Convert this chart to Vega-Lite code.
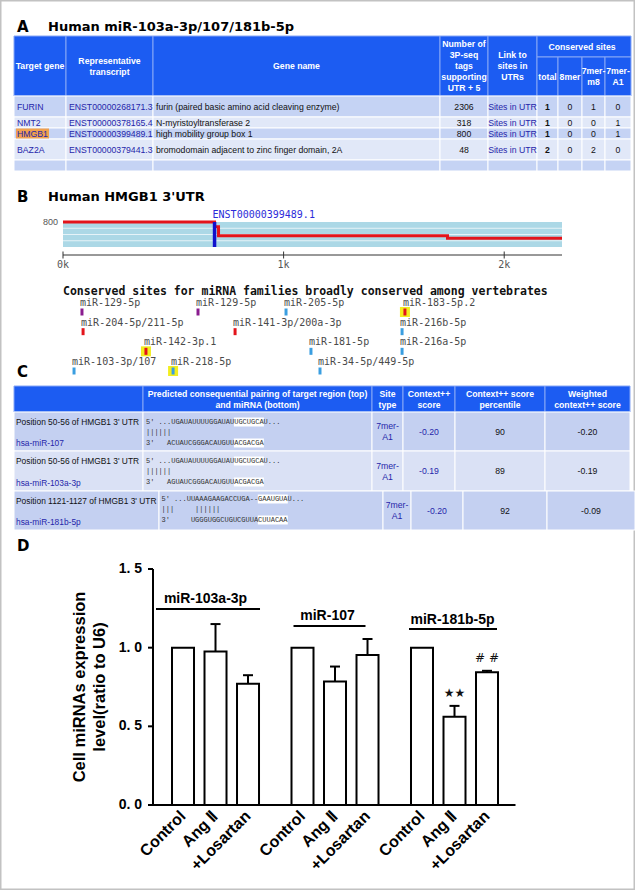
{
"$schema": "https://vega.github.io/schema/vega-lite/v6.json",
"width": 635,
"height": 890,
"autosize": {"type": "none"},
"padding": 0,
"background": "white",
"config": {"view": {"stroke": "#c2c2c2", "strokeWidth": 3}, "text": {"font": "Liberation Sans"}, "axis": {"grid": false}},
"datasets": {
"titles": [
{"p": 1, "L": "A", "T": "Human miR-103a-3p/107/181b-5p"},
{"p": 2, "L": "B", "T": "Human HMGB1 3'UTR"},
{"p": 3, "L": "C", "T": ""},
{"p": 4, "L": "D", "T": ""}
],
"A_head": [
{"r0": 0, "r1": 2, "c0": 0, "c1": 1, "t": "Target gene"},
{"r0": 0, "r1": 2, "c0": 1, "c1": 2, "t": "Representative\ntranscript"},
{"r0": 0, "r1": 2, "c0": 2, "c1": 3, "t": "Gene name"},
{"r0": 0, "r1": 2, "c0": 3, "c1": 4, "t": "Number of\n3P-seq\ntags\nsupporting\nUTR + 5"},
{"r0": 0, "r1": 2, "c0": 4, "c1": 5, "t": "Link to\nsites in\nUTRs"},
{"r0": 0, "r1": 1, "c0": 5, "c1": 9, "t": "Conserved sites"},
{"r0": 1, "r1": 2, "c0": 5, "c1": 6, "t": "total"},
{"r0": 1, "r1": 2, "c0": 6, "c1": 7, "t": "8mer"},
{"r0": 1, "r1": 2, "c0": 7, "c1": 8, "t": "7mer-\nm8"},
{"r0": 1, "r1": 2, "c0": 8, "c1": 9, "t": "7mer-\nA1"}
],
"A_rows": [
{"row": 2, "gene": "FURIN", "tx": "ENST00000268171.3", "name": "furin (paired basic amino acid cleaving enzyme)", "tags": "2306", "link": "Sites in UTR", "total": "1", "e8": "0", "m8": "1", "a1": "0"},
{"row": 3, "gene": "NMT2", "tx": "ENST00000378165.4", "name": "N-myristoyltransferase 2", "tags": "318", "link": "Sites in UTR", "total": "1", "e8": "0", "m8": "0", "a1": "1"},
{"row": 4, "gene": "HMGB1", "tx": "ENST00000399489.1", "name": "high mobility group box 1", "tags": "800", "link": "Sites in UTR", "total": "1", "e8": "0", "m8": "0", "a1": "1"},
{"row": 5, "gene": "BAZ2A", "tx": "ENST00000379441.3", "name": "bromodomain adjacent to zinc finger domain, 2A", "tags": "48", "link": "Sites in UTR", "total": "2", "e8": "0", "m8": "2", "a1": "0"},
{"row": 6, "gene": "", "tx": "", "name": "", "tags": "", "link": "", "total": "", "e8": "", "m8": "", "a1": ""}
],
"B_utr": [{"start": 0, "len": 2262, "low": 0, "top": 800}],
"B_grid": [{"g": 200, "start": 0, "len": 2262}, {"g": 400, "start": 0, "len": 2262}, {"g": 600, "start": 0, "len": 2262}],
"B_tags": [
{"nt": 0, "tags": 800},
{"nt": 687, "tags": 650},
{"nt": 705, "tags": 362},
{"nt": 1743, "tags": 278},
{"nt": 2262, "tags": 278}
],
"B_tx": [{"nt": 687, "low": 0, "top": 800, "tx": "ENST00000399489.1"}],
"B_ticks": [{"v": 0, "lab": "0k"}, {"v": 1000, "lab": "1k"}, {"v": 2000, "lab": "2k"}],
"B_head": [{"t": "Conserved sites for miRNA families broadly conserved among vertebrates", "nt": 0, "lane": 0}],
"sites": [
{"mir": "miR-129-5p", "nt": 86, "lane": 1, "type": "7mer-m8", "hl": false},
{"mir": "miR-129-5p", "nt": 612, "lane": 1, "type": "7mer-m8", "hl": false},
{"mir": "miR-205-5p", "nt": 1011, "lane": 1, "type": "7mer-A1", "hl": false},
{"mir": "miR-183-5p.2", "nt": 1550, "lane": 1, "type": "8mer", "hl": true},
{"mir": "miR-204-5p/211-5p", "nt": 91, "lane": 2, "type": "8mer", "hl": false},
{"mir": "miR-141-3p/200a-3p", "nt": 780, "lane": 2, "type": "8mer", "hl": false},
{"mir": "miR-216b-5p", "nt": 1537, "lane": 2, "type": "7mer-A1", "hl": false},
{"mir": "miR-142-3p.1", "nt": 376, "lane": 3, "type": "8mer", "hl": true},
{"mir": "miR-181-5p", "nt": 1124, "lane": 3, "type": "7mer-A1", "hl": false},
{"mir": "miR-216a-5p", "nt": 1537, "lane": 3, "type": "7mer-A1", "hl": false},
{"mir": "miR-103-3p/107", "nt": 50, "lane": 4, "type": "7mer-A1", "hl": false},
{"mir": "miR-218-5p", "nt": 499, "lane": 4, "type": "7mer-A1", "hl": true},
{"mir": "miR-34-5p/449-5p", "nt": 1165, "lane": 4, "type": "7mer-A1", "hl": false}
],
"C_head": [
{"r0": 0, "r1": 1, "c0": 0, "c1": 1, "t": ""},
{"r0": 0, "r1": 1, "c0": 1, "c1": 2, "t": "Predicted consequential pairing of target region (top)\nand miRNA (bottom)"},
{"r0": 0, "r1": 1, "c0": 2, "c1": 3, "t": "Site\ntype"},
{"r0": 0, "r1": 1, "c0": 3, "c1": 4, "t": "Context++\nscore"},
{"r0": 0, "r1": 1, "c0": 4, "c1": 5, "t": "Context++ score\npercentile"},
{"r0": 0, "r1": 1, "c0": 5, "c1": 6, "t": "Weighted\ncontext++ score"}
],
"C_rows": [
{"row": 1, "tbl": 0, "pos": "Position 50-56 of HMGB1 3' UTR", "mirna": "hsa-miR-107", "seq": "", "site": "7mer-\nA1", "ctx": "-0.20", "pct": "90", "w": "-0.20"},
{"row": 2, "tbl": 0, "pos": "Position 50-56 of HMGB1 3' UTR", "mirna": "hsa-miR-103a-3p", "seq": "", "site": "7mer-\nA1", "ctx": "-0.19", "pct": "89", "w": "-0.19"},
{"row": 3, "tbl": 1, "pos": "Position 1121-1127 of HMGB1 3' UTR", "mirna": "hsa-miR-181b-5p", "seq": "", "site": "7mer-\nA1", "ctx": "-0.20", "pct": "92", "w": "-0.09"}
],
"C_seq": [
{"tbl": 0, "ln": 1, "t": "5'\u00a0...UGAUAUUUUGGAUAUUGCUGCAU...", "hs": 21},
{"tbl": 0, "ln": 2, "t": "\u00a0\u00a0\u00a0\u00a0\u00a0\u00a0\u00a0\u00a0\u00a0\u00a0\u00a0\u00a0\u00a0\u00a0\u00a0\u00a0\u00a0\u00a0\u00a0\u00a0\u00a0||||||", "hs": null},
{"tbl": 0, "ln": 3, "t": "3'\u00a0\u00a0\u00a0ACUAUCGGGACAUGUUACGACGA", "hs": 21},
{"tbl": 0, "ln": 4, "t": "5'\u00a0...UGAUAUUUUGGAUAUUGCUGCAU...", "hs": 21},
{"tbl": 0, "ln": 5, "t": "\u00a0\u00a0\u00a0\u00a0\u00a0\u00a0\u00a0\u00a0\u00a0\u00a0\u00a0\u00a0\u00a0\u00a0\u00a0\u00a0\u00a0\u00a0\u00a0\u00a0\u00a0||||||", "hs": null},
{"tbl": 0, "ln": 6, "t": "3'\u00a0\u00a0\u00a0AGUAUCGGGACAUGUUACGACGA", "hs": 21},
{"tbl": 1, "ln": 7, "t": "5'\u00a0...UUAAAGAAGACCUGA--GAAUGUAU...", "hs": 23},
{"tbl": 1, "ln": 8, "t": "\u00a0\u00a0\u00a0\u00a0\u00a0\u00a0\u00a0\u00a0\u00a0\u00a0\u00a0\u00a0\u00a0\u00a0\u00a0|||\u00a0\u00a0\u00a0\u00a0\u00a0||||||", "hs": null},
{"tbl": 1, "ln": 9, "t": "3'\u00a0\u00a0\u00a0\u00a0\u00a0UGGGUGGCUGUCGUUACUUACAA", "hs": 23}
],
"D_bars": [
{"mir": "miR-103a-3p", "cond": "Control", "mean": 1.0, "upper": 1.0, "sig": ""},
{"mir": "miR-103a-3p", "cond": "Ang Ⅱ", "mean": 0.975, "upper": 1.15, "sig": ""},
{"mir": "miR-103a-3p", "cond": "+Losartan", "mean": 0.77, "upper": 0.825, "sig": ""},
{"mir": "miR-107", "cond": "Control", "mean": 1.0, "upper": 1.0, "sig": ""},
{"mir": "miR-107", "cond": "Ang Ⅱ", "mean": 0.785, "upper": 0.88, "sig": ""},
{"mir": "miR-107", "cond": "+Losartan", "mean": 0.953, "upper": 1.055, "sig": ""},
{"mir": "miR-181b-5p", "cond": "Control", "mean": 1.0, "upper": 1.0, "sig": ""},
{"mir": "miR-181b-5p", "cond": "Ang Ⅱ", "mean": 0.561, "upper": 0.63, "sig": "★★"},
{"mir": "miR-181b-5p", "cond": "+Losartan", "mean": 0.843, "upper": 0.853, "sig": "# #"}
],
"D_groups": [
{"mir": "miR-103a-3p", "level": 1.246},
{"mir": "miR-107", "level": 1.138},
{"mir": "miR-181b-5p", "level": 1.119}
],
"D_axis": [{"first": "miR-103a-3p", "middle": "miR-107", "lo": 0, "hi": 1.5, "title": "Cell miRNAs expression\nlevel(ratio to U6)"}],
"D_yticks": [{"v": 0, "lab": "0. 0"}, {"v": 0.5, "lab": "0. 5"}, {"v": 1, "lab": "1. 0"}, {"v": 1.5, "lab": "1. 5"}]
},
"layer": [
{
"data": {"name": "titles"},
"transform": [{"calculate": "0", "as": "lx"}, {"calculate": "1", "as": "tx"}],
"layer": [
{"mark": {"type": "text", "font": "DejaVu Sans", "fontWeight": "bold", "fontSize": 15, "align": "left", "baseline": "middle", "color": "black"},
 "encoding": {
  "x": {"field": "lx", "type": "quantitative", "scale": {"domain": [0, 1], "range": [17, 48], "nice": false, "zero": false}, "axis": null},
  "y": {"field": "p", "type": "quantitative", "scale": {"domain": [1, 2, 3, 4], "range": [27, 197, 372, 546], "nice": false, "zero": false}, "axis": null},
  "text": {"field": "L"}}},
{"mark": {"type": "text", "font": "DejaVu Sans", "fontWeight": "bold", "fontSize": 13, "align": "left", "baseline": "middle", "color": "black"},
 "encoding": {
  "x": {"field": "tx", "type": "quantitative", "axis": null},
  "y": {"field": "p", "type": "quantitative", "axis": null},
  "text": {"field": "T"}}}
]
},
{
"layer": [
{"data": {"name": "A_head"},
 "mark": {"type": "rect", "fill": "#1c5cf2", "stroke": "#86a6f6", "strokeWidth": 1},
 "encoding": {
  "x": {"field": "c0", "type": "quantitative", "scale": {"domain": [0, 1, 2, 3, 4, 5, 6, 7, 8, 9], "range": [14, 66, 153, 440, 488, 537, 558, 582, 605, 631], "nice": false, "zero": false}, "axis": null},
  "x2": {"field": "c1"},
  "y": {"field": "r0", "type": "quantitative", "scale": {"domain": [0, 1, 2, 3, 4, 5, 6, 7], "range": [36, 57, 96, 117, 128, 139, 160, 171], "nice": false, "zero": false}, "axis": null},
  "y2": {"field": "r1"}}},
{"data": {"name": "A_rows"},
 "transform": [
  {"fold": ["gene", "tx", "name", "tags", "link", "total", "e8", "m8", "a1"], "as": ["key", "t"]},
  {"calculate": "indexof(['gene','tx','name','tags','link','total','e8','m8','a1'], datum.key)", "as": "c0"},
  {"calculate": "datum.c0 + 1", "as": "c1"},
  {"calculate": "datum.row + 1", "as": "row1"}],
 "mark": {"type": "rect", "stroke": "white", "strokeWidth": 1},
 "encoding": {
  "x": {"field": "c0", "type": "quantitative", "axis": null},
  "x2": {"field": "c1"},
  "y": {"field": "row", "type": "quantitative", "axis": null},
  "y2": {"field": "row1"},
  "color": {"condition": {"test": "datum.row % 2 == 0", "value": "#c5d3f4"}, "value": "#e1e8f8"}}},
{"data": {"name": "A_head"},
 "transform": [
  {"calculate": "(datum.c0 + datum.c1) / 2", "as": "cm"},
  {"calculate": "(datum.r0 + datum.r1) / 2", "as": "rm"},
  {"calculate": "length(split(datum.t, '\\n'))", "as": "n"}],
 "layer": [
  {"transform": [{"filter": "datum.r1 - datum.r0 == 2 && datum.n == 1"}],
   "mark": {"type": "text", "color": "white", "fontWeight": "bold", "fontSize": 8.7, "lineBreak": "\n", "lineHeight": 11, "align": "center", "baseline": "middle", "dy": 30},
   "encoding": {"x": {"field": "cm", "type": "quantitative", "axis": null}, "y": {"field": "r0", "type": "quantitative", "axis": null}, "text": {"field": "t"}}},
  {"transform": [{"filter": "datum.r1 - datum.r0 == 2 && datum.n == 2"}],
   "mark": {"type": "text", "color": "white", "fontWeight": "bold", "fontSize": 8.7, "lineBreak": "\n", "lineHeight": 11, "align": "center", "baseline": "middle", "dy": 24.5},
   "encoding": {"x": {"field": "cm", "type": "quantitative", "axis": null}, "y": {"field": "r0", "type": "quantitative", "axis": null}, "text": {"field": "t"}}},
  {"transform": [{"filter": "datum.r1 - datum.r0 == 2 && datum.n == 3"}],
   "mark": {"type": "text", "color": "white", "fontWeight": "bold", "fontSize": 8.7, "lineBreak": "\n", "lineHeight": 11, "align": "center", "baseline": "middle", "dy": 19},
   "encoding": {"x": {"field": "cm", "type": "quantitative", "axis": null}, "y": {"field": "r0", "type": "quantitative", "axis": null}, "text": {"field": "t"}}},
  {"transform": [{"filter": "datum.r1 - datum.r0 == 2 && datum.n == 5"}],
   "mark": {"type": "text", "color": "white", "fontWeight": "bold", "fontSize": 8.7, "lineBreak": "\n", "lineHeight": 11, "align": "center", "baseline": "middle", "dy": 8},
   "encoding": {"x": {"field": "cm", "type": "quantitative", "axis": null}, "y": {"field": "r0", "type": "quantitative", "axis": null}, "text": {"field": "t"}}},
  {"transform": [{"filter": "datum.r1 - datum.r0 == 1 && datum.n == 1"}],
   "mark": {"type": "text", "color": "white", "fontWeight": "bold", "fontSize": 8.7, "lineBreak": "\n", "lineHeight": 11, "align": "center", "baseline": "middle"},
   "encoding": {"x": {"field": "cm", "type": "quantitative", "axis": null}, "y": {"field": "rm", "type": "quantitative", "axis": null}, "text": {"field": "t"}}},
  {"transform": [{"filter": "datum.r1 - datum.r0 == 1 && datum.n == 2"}],
   "mark": {"type": "text", "color": "white", "fontWeight": "bold", "fontSize": 8.7, "lineBreak": "\n", "lineHeight": 11, "align": "center", "baseline": "middle", "dy": -5.5},
   "encoding": {"x": {"field": "cm", "type": "quantitative", "axis": null}, "y": {"field": "rm", "type": "quantitative", "axis": null}, "text": {"field": "t"}}}
 ]},
{"data": {"name": "A_rows"},
 "transform": [{"filter": "datum.gene == 'HMGB1'"}, {"calculate": "datum.row + 0.5", "as": "rm"}, {"calculate": "0", "as": "c0"}],
 "mark": {"type": "tick", "orient": "horizontal", "size": 33, "thickness": 10, "color": "#f0a04e", "opacity": 1, "xOffset": 18.5},
 "encoding": {
  "x": {"field": "c0", "type": "quantitative", "axis": null},
  "y": {"field": "rm", "type": "quantitative", "axis": null}}},
{"data": {"name": "A_rows"},
 "transform": [
  {"fold": ["gene", "tx", "name"], "as": ["key", "t"]},
  {"calculate": "indexof(['gene','tx','name'], datum.key)", "as": "c0"},
  {"calculate": "datum.row + 0.5", "as": "rm"}],
 "mark": {"type": "text", "align": "left", "baseline": "middle", "fontSize": 8.7, "dx": 3},
 "encoding": {
  "x": {"field": "c0", "type": "quantitative", "axis": null},
  "y": {"field": "rm", "type": "quantitative", "axis": null},
  "text": {"field": "t"},
  "color": {"condition": {"test": "datum.key == 'name'", "value": "#111111"}, "value": "#2626aa"}}},
{"data": {"name": "A_rows"},
 "transform": [
  {"fold": ["tags", "link", "e8", "m8", "a1"], "as": ["key", "t"]},
  {"calculate": "3.5 + indexof(['tags','link','total','e8','m8','a1'], datum.key)", "as": "cm"},
  {"calculate": "datum.row + 0.5", "as": "rm"}],
 "mark": {"type": "text", "align": "center", "baseline": "middle", "fontSize": 8.7},
 "encoding": {
  "x": {"field": "cm", "type": "quantitative", "axis": null},
  "y": {"field": "rm", "type": "quantitative", "axis": null},
  "text": {"field": "t"},
  "color": {"condition": {"test": "datum.key == 'link'", "value": "#2626aa"}, "value": "#111111"}}},
{"data": {"name": "A_rows"},
 "transform": [{"calculate": "datum.row + 0.5", "as": "rm"}, {"calculate": "5.5", "as": "cm"}],
 "mark": {"type": "text", "align": "center", "baseline": "middle", "fontSize": 8.7, "fontWeight": "bold", "color": "#111111"},
 "encoding": {
  "x": {"field": "cm", "type": "quantitative", "axis": null},
  "y": {"field": "rm", "type": "quantitative", "axis": null},
  "text": {"field": "total"}}}
]
},
{
"layer": [
{"data": {"name": "B_utr"},
 "mark": {"type": "rect", "fill": "#acd8e6"},
 "encoding": {
  "x": {"field": "start", "type": "quantitative", "scale": {"domain": [0, 2262], "range": [63, 562], "nice": false, "zero": false}, "axis": null},
  "x2": {"field": "len"},
  "y": {"field": "low", "type": "quantitative", "scale": {"domain": [0, 800], "range": [247, 222], "nice": false, "zero": false}, "axis": null},
  "y2": {"field": "top"}}},
{"data": {"name": "B_grid"},
 "mark": {"type": "rule", "color": "white", "strokeWidth": 1, "opacity": 0.7},
 "encoding": {
  "x": {"field": "start", "type": "quantitative", "axis": null},
  "x2": {"field": "len"},
  "y": {"field": "g", "type": "quantitative", "axis": null}}},
{"data": {"name": "B_tags"},
 "mark": {"type": "line", "color": "#e3141b", "strokeWidth": 3, "interpolate": "step-after"},
 "encoding": {
  "x": {"field": "nt", "type": "quantitative", "axis": null},
  "y": {"field": "tags", "type": "quantitative", "axis": null}}},
{"data": {"name": "B_tx"},
 "mark": {"type": "rule", "color": "#1111cc", "strokeWidth": 3.5},
 "encoding": {
  "x": {"field": "nt", "type": "quantitative", "axis": null},
  "y": {"field": "low", "type": "quantitative", "axis": null},
  "y2": {"field": "top"}}},
{"data": {"name": "B_tx"},
 "mark": {"type": "text", "align": "left", "baseline": "bottom", "font": "DejaVu Sans Mono", "fontSize": 10, "color": "#2b2bd9", "dx": -2, "dy": -2},
 "encoding": {
  "x": {"field": "nt", "type": "quantitative", "axis": null},
  "y": {"field": "top", "type": "quantitative", "axis": null},
  "text": {"field": "tx"}}},
{"data": {"name": "B_utr"},
 "mark": {"type": "text", "align": "right", "baseline": "middle", "fontSize": 9, "color": "#555555", "dx": -5},
 "encoding": {
  "x": {"field": "start", "type": "quantitative", "axis": null},
  "y": {"field": "top", "type": "quantitative", "axis": null},
  "text": {"field": "top"}}}
]
},
{
"layer": [
{"data": {"name": "B_utr"},
 "transform": [{"calculate": "0", "as": "lv"}],
 "mark": {"type": "rule", "color": "#333333", "strokeWidth": 1},
 "encoding": {
  "x": {"field": "start", "type": "quantitative", "scale": {"domain": [0, 2262], "range": [63, 562], "nice": false, "zero": false}, "axis": null},
  "x2": {"field": "len"},
  "y": {"field": "lv", "type": "quantitative", "scale": {"domain": [0, 1], "range": [255, 265], "nice": false, "zero": false}, "axis": null}}},
{"data": {"name": "B_ticks"},
 "transform": [{"calculate": "0", "as": "lv"}],
 "mark": {"type": "tick", "orient": "vertical", "size": 7, "thickness": 1, "color": "#333333", "opacity": 1},
 "encoding": {
  "x": {"field": "v", "type": "quantitative", "axis": null},
  "y": {"field": "lv", "type": "quantitative", "axis": null}}},
{"data": {"name": "B_ticks"},
 "transform": [{"calculate": "1", "as": "lv"}],
 "mark": {"type": "text", "align": "center", "baseline": "middle", "font": "DejaVu Sans Mono", "fontSize": 10, "color": "#555555"},
 "encoding": {
  "x": {"field": "v", "type": "quantitative", "axis": null},
  "y": {"field": "lv", "type": "quantitative", "axis": null},
  "text": {"field": "lab"}}}
]
},
{
"layer": [
{"data": {"name": "B_head"},
 "mark": {"type": "text", "align": "left", "baseline": "middle", "font": "DejaVu Sans Mono", "fontWeight": "bold", "fontSize": 11.5, "color": "#111111"},
 "encoding": {
  "x": {"field": "nt", "type": "quantitative", "scale": {"domain": [0, 2262], "range": [63, 562], "nice": false, "zero": false}, "axis": null},
  "y": {"field": "lane", "type": "quantitative", "scale": {"domain": [0, 1, 4], "range": [292, 312, 371], "nice": false, "zero": false}, "axis": null},
  "text": {"field": "t"}}},
{"data": {"name": "sites"},
 "transform": [{"filter": "datum.hl"}],
 "mark": {"type": "point", "shape": "square", "filled": true, "size": 100, "color": "#f2ee1e", "opacity": 1},
 "encoding": {
  "x": {"field": "nt", "type": "quantitative", "axis": null},
  "y": {"field": "lane", "type": "quantitative", "axis": null}}},
{"data": {"name": "sites"},
 "mark": {"type": "tick", "orient": "vertical", "thickness": 3, "size": 7, "opacity": 1},
 "encoding": {
  "x": {"field": "nt", "type": "quantitative", "axis": null},
  "y": {"field": "lane", "type": "quantitative", "axis": null},
  "color": {"field": "type", "type": "nominal", "scale": {"domain": ["8mer", "7mer-m8", "7mer-A1"], "range": ["#e3141b", "#8a1c8f", "#3a9ee0"]}, "legend": null}}},
{"data": {"name": "sites"},
 "mark": {"type": "text", "align": "left", "baseline": "middle", "font": "DejaVu Sans Mono", "fontSize": 10, "color": "#4a4a4a", "dx": -2, "dy": -9},
 "encoding": {
  "x": {"field": "nt", "type": "quantitative", "axis": null},
  "y": {"field": "lane", "type": "quantitative", "axis": null},
  "text": {"field": "mir"}}}
]
},
{
"layer": [
{"data": {"name": "C_head"},
 "mark": {"type": "rect", "fill": "#1c5cf2", "stroke": "#86a6f6", "strokeWidth": 1},
 "encoding": {
  "x": {"field": "c0", "type": "quantitative", "scale": {"domain": [0, 1, 2, 3, 4, 5, 6, 10, 11, 12, 13, 14, 15, 16], "range": [14, 143, 372, 403, 455, 545, 630, 14, 159, 383, 411, 463, 547, 635], "nice": false, "zero": false}, "axis": null},
  "x2": {"field": "c1"},
  "y": {"field": "r0", "type": "quantitative", "scale": {"domain": [0, 1, 2, 3, 4], "range": [386, 412, 451, 491, 530], "nice": false, "zero": false}, "axis": null},
  "y2": {"field": "r1"}}},
{"data": {"name": "C_head"},
 "transform": [
  {"calculate": "(datum.c0 + datum.c1) / 2", "as": "cm"},
  {"calculate": "(datum.r0 + datum.r1) / 2", "as": "rm"}],
 "mark": {"type": "text", "color": "white", "fontWeight": "bold", "fontSize": 8.7, "lineBreak": "\n", "lineHeight": 11, "align": "center", "baseline": "middle", "dy": -5.5},
 "encoding": {
  "x": {"field": "cm", "type": "quantitative", "axis": null},
  "y": {"field": "rm", "type": "quantitative", "axis": null},
  "text": {"field": "t"}}},
{"data": {"name": "C_rows"},
 "transform": [
  {"fold": ["pos", "seq", "site", "ctx", "pct", "w"], "as": ["key", "t"]},
  {"calculate": "indexof(['pos','seq','site','ctx','pct','w'], datum.key) + 10 * datum.tbl", "as": "c0"},
  {"calculate": "datum.c0 + 1", "as": "c1"},
  {"calculate": "datum.row + 1", "as": "row1"}],
 "mark": {"type": "rect", "stroke": "white", "strokeWidth": 1},
 "encoding": {
  "x": {"field": "c0", "type": "quantitative", "axis": null},
  "x2": {"field": "c1"},
  "y": {"field": "row", "type": "quantitative", "axis": null},
  "y2": {"field": "row1"},
  "color": {"condition": {"test": "datum.row % 2 == 1", "value": "#c4d0f1"}, "value": "#dae1f5"}}},
{"data": {"name": "C_rows"},
 "transform": [{"calculate": "10 * datum.tbl", "as": "c0"}, {"calculate": "datum.row + 1", "as": "row1"}],
 "layer": [
  {"mark": {"type": "text", "align": "left", "baseline": "middle", "fontSize": 8.4, "dx": 2, "dy": 10, "color": "#111111"},
   "encoding": {"x": {"field": "c0", "type": "quantitative", "axis": null}, "y": {"field": "row", "type": "quantitative", "axis": null}, "text": {"field": "pos"}}},
  {"mark": {"type": "text", "align": "left", "baseline": "middle", "fontSize": 8.4, "dx": 2, "dy": -8, "color": "#2626aa"},
   "encoding": {"x": {"field": "c0", "type": "quantitative", "axis": null}, "y": {"field": "row1", "type": "quantitative", "axis": null}, "text": {"field": "mirna"}}}
 ]},
{"data": {"name": "C_rows"},
 "transform": [
  {"calculate": "2.5 + 10 * datum.tbl", "as": "cm"},
  {"calculate": "datum.row + 0.5", "as": "rm"}],
 "mark": {"type": "text", "align": "center", "baseline": "middle", "fontSize": 8.7, "lineBreak": "\n", "lineHeight": 11, "dy": -5.5, "color": "#2626aa"},
 "encoding": {
  "x": {"field": "cm", "type": "quantitative", "axis": null},
  "y": {"field": "rm", "type": "quantitative", "axis": null},
  "text": {"field": "site"}}},
{"data": {"name": "C_rows"},
 "transform": [
  {"fold": ["ctx", "pct", "w"], "as": ["key", "t"]},
  {"calculate": "3.5 + indexof(['ctx','pct','w'], datum.key) + 10 * datum.tbl", "as": "cm"},
  {"calculate": "datum.row + 0.5", "as": "rm"}],
 "mark": {"type": "text", "align": "center", "baseline": "middle", "fontSize": 8.7},
 "encoding": {
  "x": {"field": "cm", "type": "quantitative", "axis": null},
  "y": {"field": "rm", "type": "quantitative", "axis": null},
  "text": {"field": "t"},
  "color": {"condition": {"test": "datum.key == 'ctx'", "value": "#2626aa"}, "value": "#111111"}}}
]
},
{
"data": {"name": "C_seq"},
"transform": [{"calculate": "100 * datum.tbl", "as": "x0"}],
"layer": [
{"transform": [{"filter": "datum.hs != null"}, {"calculate": "100 * datum.tbl + datum.hs + 3.5", "as": "hc"}],
 "mark": {"type": "tick", "orient": "horizontal", "size": 30, "thickness": 9, "color": "white", "opacity": 1},
 "encoding": {
  "x": {"field": "hc", "type": "quantitative", "scale": {"domain": [0, 60, 100, 160], "range": [146, 398, 161.5, 413.5], "nice": false, "zero": false}, "axis": null},
  "y": {"field": "ln", "type": "quantitative", "scale": {"domain": [1, 2, 3, 4, 5, 6, 7, 8, 9], "range": [422, 432, 443, 461, 471, 482, 499, 509, 520], "nice": false, "zero": false}, "axis": null}}},
{"mark": {"type": "text", "align": "left", "baseline": "middle", "font": "Liberation Mono", "fontSize": 7, "color": "#333333"},
 "encoding": {
  "x": {"field": "x0", "type": "quantitative", "axis": null},
  "y": {"field": "ln", "type": "quantitative", "axis": null},
  "text": {"field": "t"}}}
]
},
{
"data": {"name": "D_bars"},
"layer": [
{"mark": {"type": "bar", "fill": "white", "stroke": "black", "strokeWidth": 2},
 "encoding": {
  "x": {"field": "mir", "type": "nominal", "scale": {"domain": ["miR-103a-3p", "miR-107", "miR-181b-5p"], "range": [148, 515], "paddingInner": 0.184, "paddingOuter": 0.1276, "align": 0.615}, "axis": null},
  "xOffset": {"field": "cond", "type": "nominal", "scale": {"domain": ["Control", "Ang Ⅱ", "+Losartan"], "paddingInner": 0.323, "paddingOuter": 0.1615}},
  "y": {"field": "mean", "type": "quantitative", "scale": {"domain": [0, 1.5], "range": [805, 569], "nice": false, "zero": false}, "axis": null}}},
{"transform": [{"filter": "datum.upper > datum.mean"}],
 "mark": {"type": "rule", "color": "black", "strokeWidth": 2},
 "encoding": {
  "x": {"field": "mir", "type": "nominal", "axis": null},
  "xOffset": {"field": "cond", "type": "nominal"},
  "y": {"field": "mean", "type": "quantitative", "axis": null},
  "y2": {"field": "upper"}}},
{"transform": [{"filter": "datum.upper > datum.mean"}],
 "mark": {"type": "tick", "orient": "horizontal", "size": 10, "thickness": 2, "color": "black", "opacity": 1},
 "encoding": {
  "x": {"field": "mir", "type": "nominal", "axis": null},
  "xOffset": {"field": "cond", "type": "nominal"},
  "y": {"field": "upper", "type": "quantitative", "axis": null}}},
{"transform": [{"filter": "datum.sig != ''"}],
 "mark": {"type": "text", "font": "DejaVu Sans", "fontSize": 12, "dy": -13, "color": "#111111"},
 "encoding": {
  "x": {"field": "mir", "type": "nominal", "axis": null},
  "xOffset": {"field": "cond", "type": "nominal"},
  "y": {"field": "upper", "type": "quantitative", "axis": null},
  "text": {"field": "sig"}}},
{"transform": [{"calculate": "-0.055", "as": "lab"}],
 "mark": {"type": "text", "angle": 315, "align": "right", "baseline": "middle", "font": "Liberation Sans", "fontWeight": "bold", "fontSize": 16, "color": "black"},
 "encoding": {
  "x": {"field": "mir", "type": "nominal", "axis": null},
  "xOffset": {"field": "cond", "type": "nominal"},
  "y": {"field": "lab", "type": "quantitative", "axis": null},
  "text": {"field": "cond"}}},
{"data": {"name": "D_axis"},
 "transform": [{"calculate": "(datum.lo + datum.hi) / 2", "as": "mid"}],
 "layer": [
  {"mark": {"type": "rule", "color": "black", "strokeWidth": 2, "xOffset": -62.5},
   "encoding": {"x": {"field": "first", "type": "nominal", "axis": null}, "y": {"field": "lo", "type": "quantitative", "axis": null}, "y2": {"field": "hi"}}},
  {"mark": {"type": "tick", "orient": "horizontal", "size": 367, "thickness": 2, "color": "black", "opacity": 1, "xOffset": -3},
   "encoding": {"x": {"field": "middle", "type": "nominal", "axis": null}, "y": {"field": "lo", "type": "quantitative", "axis": null}}},
  {"mark": {"type": "text", "angle": 270, "align": "center", "baseline": "middle", "font": "Liberation Sans", "fontWeight": "bold", "fontSize": 16.5, "lineBreak": "\n", "lineHeight": 20, "color": "black", "xOffset": -135.5},
   "encoding": {"x": {"field": "first", "type": "nominal", "axis": null}, "y": {"field": "mid", "type": "quantitative", "axis": null}, "text": {"field": "title"}}}
 ]},
{"data": {"name": "D_yticks"},
 "transform": [{"calculate": "'miR-103a-3p'", "as": "first"}],
 "layer": [
  {"mark": {"type": "tick", "orient": "horizontal", "size": 5, "thickness": 2, "color": "black", "opacity": 1, "xOffset": -65},
   "encoding": {"x": {"field": "first", "type": "nominal", "axis": null}, "y": {"field": "v", "type": "quantitative", "axis": null}}},
  {"mark": {"type": "text", "align": "right", "baseline": "middle", "font": "Liberation Sans", "fontWeight": "bold", "fontSize": 14, "color": "black", "xOffset": -73.5},
   "encoding": {"x": {"field": "first", "type": "nominal", "axis": null}, "y": {"field": "v", "type": "quantitative", "axis": null}, "text": {"field": "lab"}}}
 ]},
{"data": {"name": "D_groups"},
 "layer": [
  {"transform": [{"filter": "datum.mir == 'miR-103a-3p'"}],
   "mark": {"type": "tick", "orient": "horizontal", "size": 104, "thickness": 2, "color": "black", "opacity": 1, "xOffset": -7.5},
   "encoding": {"x": {"field": "mir", "type": "nominal", "axis": null}, "y": {"field": "level", "type": "quantitative", "axis": null}}},
  {"transform": [{"filter": "datum.mir == 'miR-107'"}],
   "mark": {"type": "tick", "orient": "horizontal", "size": 72, "thickness": 2, "color": "black", "opacity": 1, "xOffset": -5.5},
   "encoding": {"x": {"field": "mir", "type": "nominal", "axis": null}, "y": {"field": "level", "type": "quantitative", "axis": null}}},
  {"transform": [{"filter": "datum.mir == 'miR-181b-5p'"}],
   "mark": {"type": "tick", "orient": "horizontal", "size": 88, "thickness": 2, "color": "black", "opacity": 1, "xOffset": -1.5},
   "encoding": {"x": {"field": "mir", "type": "nominal", "axis": null}, "y": {"field": "level", "type": "quantitative", "axis": null}}},
  {"transform": [{"filter": "datum.mir == 'miR-103a-3p'"}],
   "mark": {"type": "text", "font": "Liberation Sans", "fontWeight": "bold", "fontSize": 14, "dy": -10, "color": "black", "xOffset": -10},
   "encoding": {"x": {"field": "mir", "type": "nominal", "axis": null}, "y": {"field": "level", "type": "quantitative", "axis": null}, "text": {"field": "mir"}}},
  {"transform": [{"filter": "datum.mir == 'miR-107'"}],
   "mark": {"type": "text", "font": "Liberation Sans", "fontWeight": "bold", "fontSize": 14, "dy": -10, "color": "black", "xOffset": -7.5},
   "encoding": {"x": {"field": "mir", "type": "nominal", "axis": null}, "y": {"field": "level", "type": "quantitative", "axis": null}, "text": {"field": "mir"}}},
  {"transform": [{"filter": "datum.mir == 'miR-181b-5p'"}],
   "mark": {"type": "text", "font": "Liberation Sans", "fontWeight": "bold", "fontSize": 14, "dy": -9, "color": "black", "xOffset": -2},
   "encoding": {"x": {"field": "mir", "type": "nominal", "axis": null}, "y": {"field": "level", "type": "quantitative", "axis": null}, "text": {"field": "mir"}}}
 ]}
]
}
],
"resolve": {"scale": {"x": "independent", "y": "independent"}}
}
